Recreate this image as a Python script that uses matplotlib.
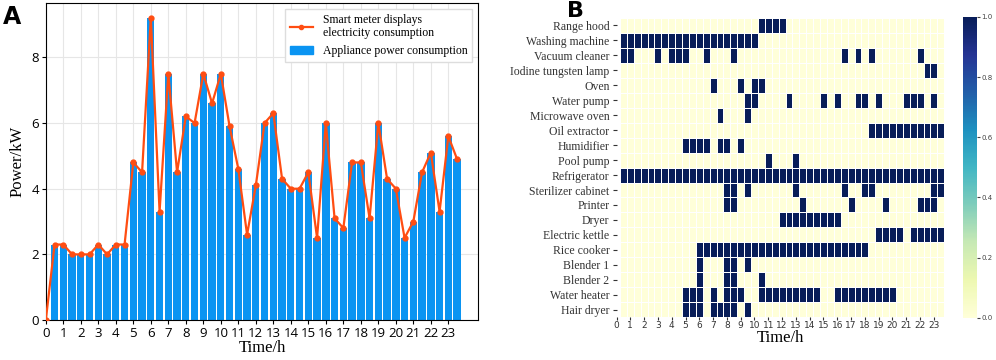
import numpy as np
import matplotlib
matplotlib.use("Agg")
import matplotlib.pyplot as plt
from matplotlib.lines import Line2D
from matplotlib.patches import Patch

# panel A: half-hourly power (kW)
times = np.arange(0.5, 24, 0.5)
power_kw = [2.3, 2.3, 2.0, 2.0, 2.0, 2.3, 2.0, 2.3, 2.3, 4.8,
            4.5, 9.2, 3.3, 7.5, 4.5, 6.2, 6.0, 7.5, 6.6, 7.5,
            5.9, 4.6, 2.6, 4.1, 6.0, 6.3, 4.3, 4.0, 4.0, 4.5,
            2.5, 6.0, 3.1, 2.8, 4.8, 4.8, 3.1, 6.0, 4.3, 4.0,
            2.5, 3.0, 4.5, 5.1, 3.3, 5.6, 4.9]
meter_times = np.concatenate([[0], times])
meter_kw = [0.0] + power_kw

# panel B: appliance on-periods (hours, inclusive half-hour slots)
appliances = ["Range hood", "Washing machine", "Vacuum cleaner", "Iodine tungsten lamp",
              "Oven", "Water pump", "Microwave oven", "Oil extractor", "Humidifier",
              "Pool pump", "Refrigerator", "Sterilizer cabinet", "Printer", "Dryer",
              "Electric kettle", "Rice cooker", "Blender 1", "Blender 2",
              "Water heater", "Hair dryer"]
on_periods = [
    [(10.5, 12)],
    [(0.5, 10)],
    [(0.5, 1), (3, 3), (4, 5), (6.5, 6.5), (8.5, 8.5), (16.5, 16.5), (17.5, 17.5), (18.5, 18.5), (22, 22)],
    [(22.5, 23)],
    [(7, 7), (9, 9), (10, 10.5)],
    [(9.5, 10), (12.5, 12.5), (15, 15), (16, 16), (17.5, 18), (19, 19), (21, 22), (23, 23)],
    [(7.5, 7.5), (9.5, 9.5)],
    [(18.5, 23.5)],
    [(5, 6.5), (7.5, 8), (9, 9)],
    [(11, 11), (13, 13)],
    [(0.5, 23.5)],
    [(8, 8.5), (9.5, 9.5), (13, 13), (16.5, 16.5), (18, 18.5), (23, 23.5)],
    [(8, 8.5), (13.5, 13.5), (17, 17), (19.5, 19.5), (22, 23)],
    [(12, 16)],
    [(19, 20.5), (21.5, 23.5)],
    [(6, 18)],
    [(6, 6), (8, 8.5), (9.5, 9.5)],
    [(6, 6), (8, 8.5), (10.5, 10.5)],
    [(5, 6), (7, 7), (8, 9), (10.5, 14.5), (16, 20)],
    [(5, 6), (7, 8.5), (9.5, 9.5)],
]

state = np.zeros((len(appliances), len(times)))
for i, periods in enumerate(on_periods):
    for a, b in periods:
        state[i, (times >= a) & (times <= b)] = 1

serif = "Liberation Serif"
sans = "Open Sans"
fig = plt.figure(figsize=(9.96, 3.6), dpi=100)

# ---- A ----
ax = fig.add_axes([0.046, 0.111, 0.434, 0.881])
ax.set_axisbelow(True)
ax.grid(color="#e6e6e6", linewidth=0.8)
ax.bar(times, power_kw, width=0.42, color="#0a94f2", zorder=2)
ax.plot(meter_times, meter_kw, color="#ff4d12", linewidth=1.6, marker="o",
        markersize=3.5, zorder=3)
ax.set_xlim(0, 24.7)
ax.set_ylim(0, 9.66)
ax.set_xticks(range(24))
ax.set_yticks([0, 2, 4, 6, 8])
ax.tick_params(labelsize=9.5, length=3, pad=2)
for lab in ax.get_xticklabels() + ax.get_yticklabels():
    lab.set_fontfamily(sans)
ax.set_xlabel("Time/h", fontfamily=serif, fontsize=12, labelpad=0)
ax.set_ylabel("Power/kW", fontfamily=serif, fontsize=12, labelpad=4)
handles = [Line2D([], [], color="#ff4d12", linewidth=1.6, marker="o", markersize=3),
           Patch(color="#0a94f2")]
ax.legend(handles, ["Smart meter displays\nelectricity consumption",
                    "Appliance power consumption"],
          loc="upper right", prop={"family": serif, "size": 8.5},
          fancybox=False, framealpha=1, edgecolor="#dddddd")
fig.text(0.003, 0.985, "A", fontsize=17, fontweight="bold", va="top")

# ---- B ----
bx = fig.add_axes([0.619, 0.119, 0.329, 0.831])
edges = np.concatenate([times - 0.25, [times[-1] + 0.25]])
mesh = bx.pcolormesh(edges, np.arange(len(appliances) + 1), state, cmap="YlGnBu",
                     vmin=0, vmax=1, edgecolors="white", linewidth=0.7)
bx.set_xlim(0, 23.75)
bx.set_ylim(len(appliances), 0)
for s in bx.spines.values():
    s.set_visible(False)
bx.set_xticks(range(24))
bx.tick_params(axis="x", labelsize=6.5, length=2, pad=1, colors="#333333")
bx.set_yticks(np.arange(len(appliances)) + 0.5)
bx.set_yticklabels(appliances, fontfamily=serif, fontsize=8.5)
bx.tick_params(axis="y", length=3, pad=2, colors="#333333")
bx.set_xlabel("Time/h", fontfamily=serif, fontsize=12, labelpad=0)
cax = fig.add_axes([0.967, 0.117, 0.014, 0.836])
cb = fig.colorbar(mesh, cax=cax, ticks=[0, 0.2, 0.4, 0.6, 0.8, 1.0])
cb.outline.set_visible(False)
cax.tick_params(labelsize=5, length=2, pad=1, colors="#444444")
fig.text(0.569, 0.997, "B", fontsize=16, fontweight="bold", va="top")

fig.savefig("out.png", dpi=100)
